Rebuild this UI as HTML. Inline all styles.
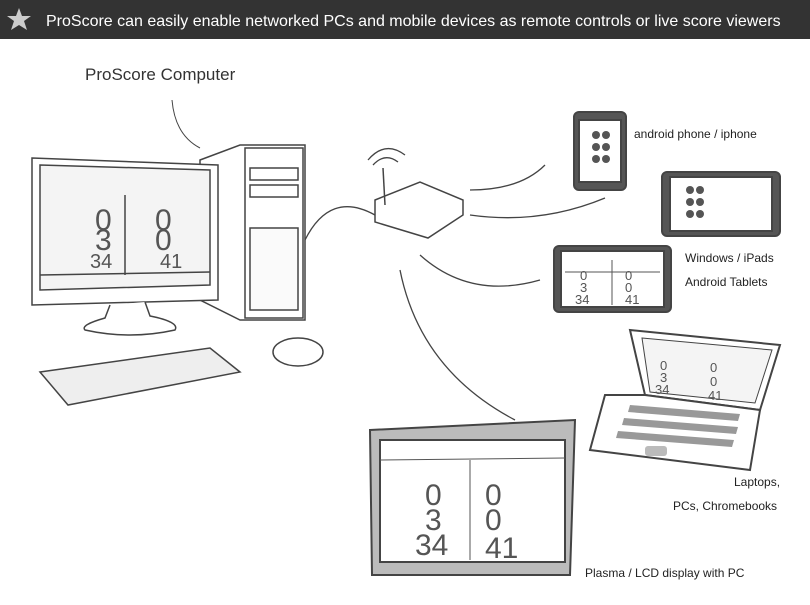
<!DOCTYPE html>
<html><head><style>
body{margin:0;width:810px;height:600px;background:#fff;overflow:hidden;font-family:"Liberation Sans",sans-serif}
</style></head><body>
<svg width="810" height="600" xmlns="http://www.w3.org/2000/svg" font-family="Liberation Sans, sans-serif">
<rect x="0" y="0" width="810" height="39" fill="#333"/>
<polygon points="19,8 22,16 31,16 24,21 27,30 19,25 11,30 14,21 7,16 16,16" fill="#ccc"/>
<text x="46" y="26" fill="#fff" font-size="16">ProScore can easily enable networked PCs and mobile devices as remote controls or live score viewers</text>
<text x="85" y="80" fill="#333" font-size="17">ProScore Computer</text>
<path d="M172,100 Q175,135 200,148" stroke="#444" fill="none"/>
<g stroke="#444" fill="#fff" stroke-width="1.5">
<polygon points="200,160 240,145 305,145 305,320 240,320 200,300"/>
<rect x="245" y="148" width="58" height="170"/>
<rect x="250" y="228" width="48" height="82" fill="#fafafa"/>
<rect x="250" y="168" width="48" height="12"/>
<rect x="250" y="185" width="48" height="12"/>
<polygon points="32,158 218,165 218,300 32,305"/>
<polygon points="40,165 210,170 210,285 40,290" fill="#f4f4f4"/>
<line x1="40" y1="275" x2="210" y2="272"/>
<line x1="125" y1="195" x2="125" y2="275"/>
<path d="M110,305 L105,318 Q80,325 85,330 Q130,340 175,330 Q180,322 150,316 L145,302"/>
<polygon points="40,372 210,348 240,372 68,405" fill="#eee"/>
<ellipse cx="298" cy="352" rx="25" ry="14"/>
<polygon points="375,200 420,182 463,200 463,215 428,238 375,222"/>
<line x1="385" y1="205" x2="383" y2="168"/>
</g>
<g stroke="#444" fill="none" stroke-width="1.3">
<path d="M305,240 Q330,190 375,215"/>
<path d="M368,160 Q385,140 405,155"/><path d="M373,165 Q385,152 398,162"/>
<path d="M470,190 Q520,190 545,165"/>
<path d="M470,215 Q540,225 605,198"/>
<path d="M420,255 Q470,300 540,280"/>
<path d="M400,270 Q420,370 515,420"/>
</g>
<g stroke="#444" fill="#fff" stroke-width="2">
<rect x="574" y="112" width="52" height="78" rx="5" fill="#555"/>
<rect x="579" y="120" width="42" height="62" fill="#fff"/>
<rect x="662" y="172" width="118" height="64" rx="5" fill="#555"/>
<rect x="670" y="177" width="102" height="54" fill="#fff"/>
<rect x="554" y="246" width="117" height="66" rx="5" fill="#555"/>
<rect x="561" y="251" width="103" height="56" fill="#fff"/>
<polygon points="630,330 780,345 760,410 645,395" fill="#fff"/>
<polygon points="642,338 772,350 755,403 650,392" fill="#f4f4f4" stroke-width="1"/>
<polygon points="605,395 645,395 760,410 750,470 590,450"/>
<polygon points="370,430 575,420 570,575 372,575" fill="#bbb"/>
<rect x="380" y="440" width="185" height="122" fill="#fff"/>
</g>
<g fill="#999">
<polygon points="630,405 740,414 738,421 628,412"/>
<polygon points="624,418 738,427 736,434 622,425"/>
<polygon points="618,431 734,440 732,447 616,438"/>
<rect x="645" y="446" width="22" height="10" rx="3" fill="#bbb"/>
</g>
<g stroke="#555" fill="none">
<line x1="380" y1="460" x2="565" y2="458"/>
<line x1="470" y1="460" x2="470" y2="560"/>
<line x1="565" y1="272" x2="660" y2="272"/>
<line x1="612" y1="260" x2="612" y2="305"/>
</g>
<g fill="#555">
<circle cx="596" cy="135" r="4"/><circle cx="606" cy="135" r="4"/><circle cx="596" cy="147" r="4"/><circle cx="606" cy="147" r="4"/><circle cx="596" cy="159" r="4"/><circle cx="606" cy="159" r="4"/>
<circle cx="690" cy="190" r="4"/><circle cx="700" cy="190" r="4"/><circle cx="690" cy="202" r="4"/><circle cx="700" cy="202" r="4"/><circle cx="690" cy="214" r="4"/><circle cx="700" cy="214" r="4"/>
</g>
<g font-size="30" fill="#555" font-family="Liberation Sans">
<text x="95" y="230">0</text><text x="155" y="230">0</text>
<text x="95" y="250">3</text><text x="155" y="250">0</text>
<text x="90" y="268" font-size="20">34</text><text x="160" y="268" font-size="20">41</text>
<text x="425" y="505">0</text><text x="485" y="505">0</text>
<text x="425" y="530">3</text><text x="485" y="530">0</text>
<text x="415" y="555">34</text><text x="485" y="558">41</text>
<text x="580" y="280" font-size="13">0</text><text x="625" y="280" font-size="13">0</text>
<text x="580" y="292" font-size="13">3</text><text x="625" y="292" font-size="13">0</text>
<text x="575" y="304" font-size="13">34</text><text x="625" y="304" font-size="13">41</text>
<text x="660" y="370" font-size="13">0</text><text x="710" y="372" font-size="13">0</text>
<text x="660" y="382" font-size="13">3</text><text x="710" y="386" font-size="13">0</text>
<text x="655" y="394" font-size="13">34</text><text x="708" y="400" font-size="13">41</text>
</g>
<g font-size="12" fill="#222">
<text x="634" y="138">android phone / iphone</text>
<text x="685" y="262">Windows / iPads</text>
<text x="685" y="286">Android Tablets</text>
<text x="734" y="486">Laptops,</text>
<text x="673" y="510">PCs, Chromebooks</text>
<text x="585" y="577">Plasma / LCD display with PC</text>
</g>
</svg>
</body></html>
